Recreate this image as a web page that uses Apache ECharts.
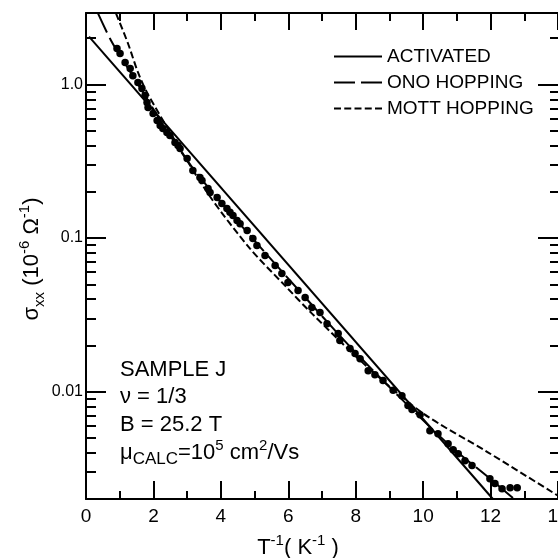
<!DOCTYPE html>
<html>
<head>
<meta charset="utf-8">
<script src="https://cdn.jsdelivr.net/npm/echarts@6.0.0/dist/echarts.min.js"></script>
<style>
html,body{margin:0;padding:0;background:#fff;}
#chart{width:558px;height:558px;}
</style>
</head>
<body>
<div id="chart"></div>
<script>
// ---- data ----
const tInv = [0.92,1.01,1.16,1.31,1.39,1.54,1.66,1.75,1.81,1.84,1.99,2.11,2.20,2.28,2.40,2.49,2.64,2.73,2.79,3.00,3.17,3.38,3.44,3.62,3.68,3.89,4.03,4.18,4.27,4.36,4.48,4.57,4.78,4.95,5.07,5.31,5.61,5.81,5.99,6.29,6.50,6.70,6.94,7.15,7.48,7.53,7.83,7.98,8.13,8.37,8.57,8.81,9.11,9.37,9.55,9.67,9.91,10.20,10.44,10.74,10.89,11.04,11.24,11.45,11.98,12.13,12.34,12.58,12.79];
const sigma = [1.716,1.59,1.39,1.27,1.14,1.03,0.94,0.848,0.763,0.708,0.647,0.583,0.541,0.517,0.487,0.465,0.419,0.401,0.383,0.330,0.275,0.248,0.237,0.210,0.198,0.184,0.168,0.156,0.147,0.140,0.130,0.124,0.112,0.0993,0.0893,0.0769,0.0662,0.0587,0.0513,0.0455,0.0410,0.0353,0.0327,0.0277,0.0239,0.0215,0.0191,0.0177,0.0164,0.0137,0.0129,0.0118,0.0102,0.00942,0.00811,0.00764,0.00708,0.00557,0.00532,0.00458,0.00419,0.00394,0.00355,0.00330,0.00271,0.00252,0.00233,0.00237,0.00237];

const activatedX = [0.09, 12.07];
const activatedY = [2.05, 0.0020];

const onoX = [0.356,0.742,1.157,1.750,2.492,3.382,4.865,6.348,7.831,9.315,10.798,11.985,12.70];
const onoY = [2.90,1.934,1.370,0.848,0.465,0.248,0.1038,0.0448,0.01964,0.00914,0.00445,0.00271,0.0020];

const mottX = [0.890,1.246,1.543,1.810,2.640,3.678,4.865,5.903,6.704,8.336,9.967,11.896,14.0];
const mottY = [2.90,1.849,1.197,0.887,0.4315,0.1864,0.0854,0.0490,0.0322,0.01455,0.00730,0.00406,0.00210];

const seriesNames = ['ACTIVATED','ONO HOPPING','MOTT HOPPING'];

const xMin = 0, xMax = 14;
const xTickLabels = ['0','2','4','6','8','10','12','14'];
const yMin = 0.002, yMax = 2.92;
const yMajorTicks = [0.01, 0.1, 1.0];
const yTickLabels = ['0.01','0.1','1.0'];
const yMinorTicks = [0.003,0.004,0.005,0.006,0.007,0.008,0.009,0.02,0.03,0.04,0.05,0.06,0.07,0.08,0.09,0.2,0.3,0.4,0.5,0.6,0.7,0.8,0.9,2.0];

// ---- build ----
const L = Math.log10;
const F = 'Liberation Sans';
const K = '#000';
const pairs = (xs, ys) => xs.map((x, i) => [x, L(ys[i])]);

function makeY(pos, len, ticks, labels, showLine) {
  return {
    type: 'value', position: pos, min: L(yMin), max: L(yMax),
    axisLine: { show: showLine, onZero: false, lineStyle: { color: K, width: 2 } },
    axisTick: { show: true, inside: true, length: len, customValues: ticks.map(L), lineStyle: { color: K, width: 2 } },
    axisLabel: labels ? {
      show: true, customValues: ticks.map(L), margin: 3, fontSize: 16, fontFamily: F, color: K,
      formatter: v => { const i = ticks.findIndex(t => Math.abs(L(t) - v) < 1e-6); return i >= 0 ? labels[i] : ''; }
    } : { show: false },
    splitLine: { show: false }
  };
}
function makeX(pos, len, labels) {
  return {
    type: 'value', position: pos, min: xMin, max: xMax, interval: 2,
    axisLine: { show: true, onZero: false, lineStyle: { color: K, width: 2 } },
    axisTick: { show: true, inside: true, length: len, lineStyle: { color: K, width: 2 } },
    minorTick: { show: true, splitNumber: 2, length: 8, lineStyle: { color: K, width: 2 } },
    axisLabel: labels ? {
      show: true, margin: 8, fontSize: 19, fontFamily: F, color: K,
      formatter: v => labels[Math.round(v / 2)] || ''
    } : { show: false },
    splitLine: { show: false }, minorSplitLine: { show: false }
  };
}

const chart = echarts.init(document.getElementById('chart'));
const rm = { fontSize: 22, fontFamily: F, color: K, lineHeight: 30 };
const txt = { fontSize: 22, fontFamily: F, fill: K, align: 'left', verticalAlign: 'middle', textAlign: 'left', textVerticalAlign: 'middle' };
chart.setOption({
  animation: false,
  backgroundColor: '#fff',
  grid: { left: 86, right: 0, top: 13, bottom: 59, outerBoundsMode: 'none' },
  legend: {
    data: seriesNames, orient: 'vertical', left: 328, top: 42, itemWidth: 48, itemHeight: 14, itemGap: 7,
    itemStyle: { opacity: 0 },
    textStyle: { fontSize: 19, fontFamily: F, color: K }
  },
  xAxis: [
    makeX('bottom', 18, xTickLabels),
    makeX('top', 17, null)
  ],
  yAxis: [
    makeY('left', 20, yMajorTicks, yTickLabels, true),
    makeY('left', 10, yMinorTicks, null, false),
    makeY('right', 20, yMajorTicks, null, false),
    makeY('right', 8, yMinorTicks, null, false)
  ],
  series: [
    { name: seriesNames[0], type: 'line', data: pairs(activatedX, activatedY), symbol: 'none', itemStyle: { color: K }, lineStyle: { color: K, width: 2, type: 'solid' }, z: 3 },
    { name: seriesNames[1], type: 'line', data: pairs(onoX, onoY), symbol: 'none', smooth: 0.3, itemStyle: { color: K }, lineStyle: { color: K, width: 2, type: [21, 6] }, z: 3 },
    { name: seriesNames[2], type: 'line', data: pairs(mottX, mottY), symbol: 'none', smooth: 0.3, itemStyle: { color: K }, lineStyle: { color: K, width: 2, type: [7, 3.25] }, z: 3 },
    { name: 'data', type: 'scatter', data: pairs(tInv, sigma), symbol: 'circle', symbolSize: 7.5, itemStyle: { color: K, opacity: 1 }, z: 4 }
  ],
  graphic: [
    { type: 'text', x: 120, y: 370, style: Object.assign({ text: 'SAMPLE J' }, txt) },
    { type: 'text', x: 120, y: 397, style: Object.assign({ text: 'ν = 1/3' }, txt) },
    { type: 'text', x: 120, y: 425, style: Object.assign({ text: 'B = 25.2 T' }, txt) },
    { type: 'text', x: 120, y: 453, style: {
        text: '{m|μ}{s|CALC}{m|=10}{p|5}{m| cm}{p|2}{m|/Vs}',
        align: 'left', verticalAlign: 'middle', textAlign: 'left', textVerticalAlign: 'middle',
        rich: {
          m: rm,
          s: { fontSize: 17, fontFamily: F, color: K, lineHeight: 20, verticalAlign: 'bottom' },
          p: { fontSize: 15, fontFamily: F, color: K, lineHeight: 18, verticalAlign: 'top' }
        } } },
    { type: 'text', x: 298, y: 548, style: {
        text: '{m|T}{p|-1}{m|( K}{p|-1}{m| )}',
        align: 'center', verticalAlign: 'middle', textAlign: 'center', textVerticalAlign: 'middle',
        rich: {
          m: rm,
          p: { fontSize: 15, fontFamily: F, color: K, lineHeight: 18, verticalAlign: 'top' }
        } } },
    { type: 'text', x: 32, y: 259, rotation: Math.PI / 2, style: {
        text: '{m|σ}{s|xx}{m| (10}{p|-6}{m| Ω}{p|-1}{m|)}',
        align: 'center', verticalAlign: 'middle', textAlign: 'center', textVerticalAlign: 'middle',
        rich: {
          m: rm,
          s: { fontSize: 15, fontFamily: F, color: K, lineHeight: 20, verticalAlign: 'bottom' },
          p: { fontSize: 15, fontFamily: F, color: K, lineHeight: 18, verticalAlign: 'top' }
        } } }
  ]
});
</script>
</body>
</html>
